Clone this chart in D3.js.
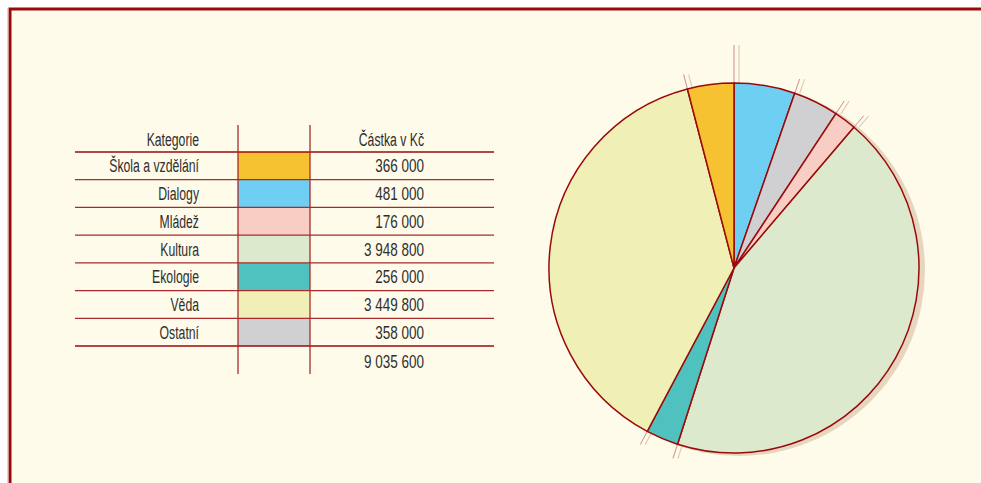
<!DOCTYPE html>
<html>
<head>
<meta charset="utf-8">
<script src="https://cdn.jsdelivr.net/npm/d3@7"></script>
<style>
  html, body { margin: 0; padding: 0; background: #fff; }
  svg { display: block; }
  text { font-family: "Liberation Sans", Arial, sans-serif; fill: #2e2e2e; font-size: 18px; }
</style>
</head>
<body>
<svg id="chart" width="981" height="483"></svg>
<script>
// table order
const categories = ["Škola a vzdělání", "Dialogy", "Mládež", "Kultura", "Ekologie", "Věda", "Ostatní"];
const amounts = [366000, 481000, 176000, 3948800, 256000, 3449800, 358000];
const colors = ["#f6c232", "#6fcff3", "#f7cdc4", "#dde9cc", "#4fc2bf", "#f0f0b6", "#d0d0d2"];
const headers = ["Kategorie", "Částka v Kč"];
// clockwise order of slices from 12 o'clock
const pieOrder = ["Dialogy", "Ostatní", "Mládež", "Kultura", "Ekologie", "Věda", "Škola a vzdělání"];

const fmt = v => d3.format(",")(v).replace(/,/g, " ");
const dark = "#9a0a0a";

const svg = d3.select("#chart");

// condensed text: no narrow font installed, so squeeze horizontally
function label(g, x, yy, txt, sx = 0.68) {
    g.append("text").attr("transform", `translate(${x},${yy}) scale(${sx},1)`)
     .attr("text-anchor", "end").text(txt);
}

// frame
svg.append("rect").attr("x", 10).attr("y", 9).attr("width", 1000).attr("height", 500)
   .attr("fill", "#fefbea").attr("stroke", dark).attr("stroke-width", 3);
svg.append("line").attr("x1", 8).attr("x2", 8).attr("y1", 8).attr("y2", 483)
   .attr("stroke", "#d9a0a0").attr("stroke-width", 1);

// --- table ---
const y = d3.scaleBand().domain(categories).range([152, 346]);
const colX = { label: 199, sw0: 238, sw1: 310, value: 424, left: 75, right: 494 };
const tbl = svg.append("g");

label(tbl, colX.label, 146, headers[0]);
label(tbl, colX.value, 146, headers[1]);

categories.forEach((c, i) => {
    tbl.append("rect").attr("x", colX.sw0).attr("y", y(c)).attr("width", colX.sw1 - colX.sw0)
       .attr("height", y.bandwidth()).attr("fill", colors[i]);
    label(tbl, colX.label, y(c) + y.bandwidth() / 2 + 6.5, c);
    label(tbl, colX.value, y(c) + y.bandwidth() / 2 + 6.5, fmt(amounts[i]), 0.75);
});

// horizontal rules
const rules = [152].concat(categories.map(c => y(c) + y.bandwidth()));
rules.forEach((ry, i) => {
    const heavy = i === 0 || i === rules.length - 1;
    tbl.append("line").attr("x1", colX.left).attr("x2", colX.right).attr("y1", ry).attr("y2", ry)
       .attr("stroke", heavy ? dark : "#a82a2a").attr("stroke-width", heavy ? 1.6 : 1.3);
});
[colX.sw0, colX.sw1].forEach(vx => {
    tbl.append("line").attr("x1", vx).attr("x2", vx).attr("y1", 125).attr("y2", 374)
       .attr("stroke", "#a82a2a").attr("stroke-width", 1.3);
});

label(tbl, colX.value, 368, fmt(d3.sum(amounts)), 0.75);

// --- pie ---
const cx = 734, cy = 268, r = 185;
const pieData = pieOrder.map(name => {
    const i = categories.indexOf(name);
    return { name, value: amounts[i], color: colors[i] };
});
const arcs = d3.pie().sort(null).value(d => d.value)(pieData);
const arc = d3.arc().innerRadius(0).outerRadius(r);

const pg = svg.append("g").attr("transform", `translate(${cx},${cy})`);

// shadow
pg.append("circle").attr("cx", 5).attr("cy", 2).attr("r", r + 1).attr("fill", "#e6d6bf");

// boundary extensions
const extLen = arcs.map((d, i) => i === 0 ? 38 : 15);
arcs.forEach((d, i) => {
    const a = d.startAngle;
    const p = rr => [Math.sin(a) * rr, -Math.cos(a) * rr];
    const [x0, y0] = p(r), [x1, y1] = p(r + extLen[i]);
    pg.append("line").attr("x1", x0 + 5).attr("y1", y0).attr("x2", x1 + 5).attr("y2", y1)
      .attr("stroke", "#e2ccb3").attr("stroke-width", 1.2);
    pg.append("line").attr("x1", x0).attr("y1", y0).attr("x2", x1).attr("y2", y1)
      .attr("stroke", "#c98f8f").attr("stroke-width", 1);
});

pg.selectAll("path.slice").data(arcs).join("path").attr("class", "slice")
  .attr("d", arc).attr("fill", d => d.data.color)
  .attr("stroke", dark).attr("stroke-width", 1.5).attr("stroke-linejoin", "round");
</script>
</body>
</html>
